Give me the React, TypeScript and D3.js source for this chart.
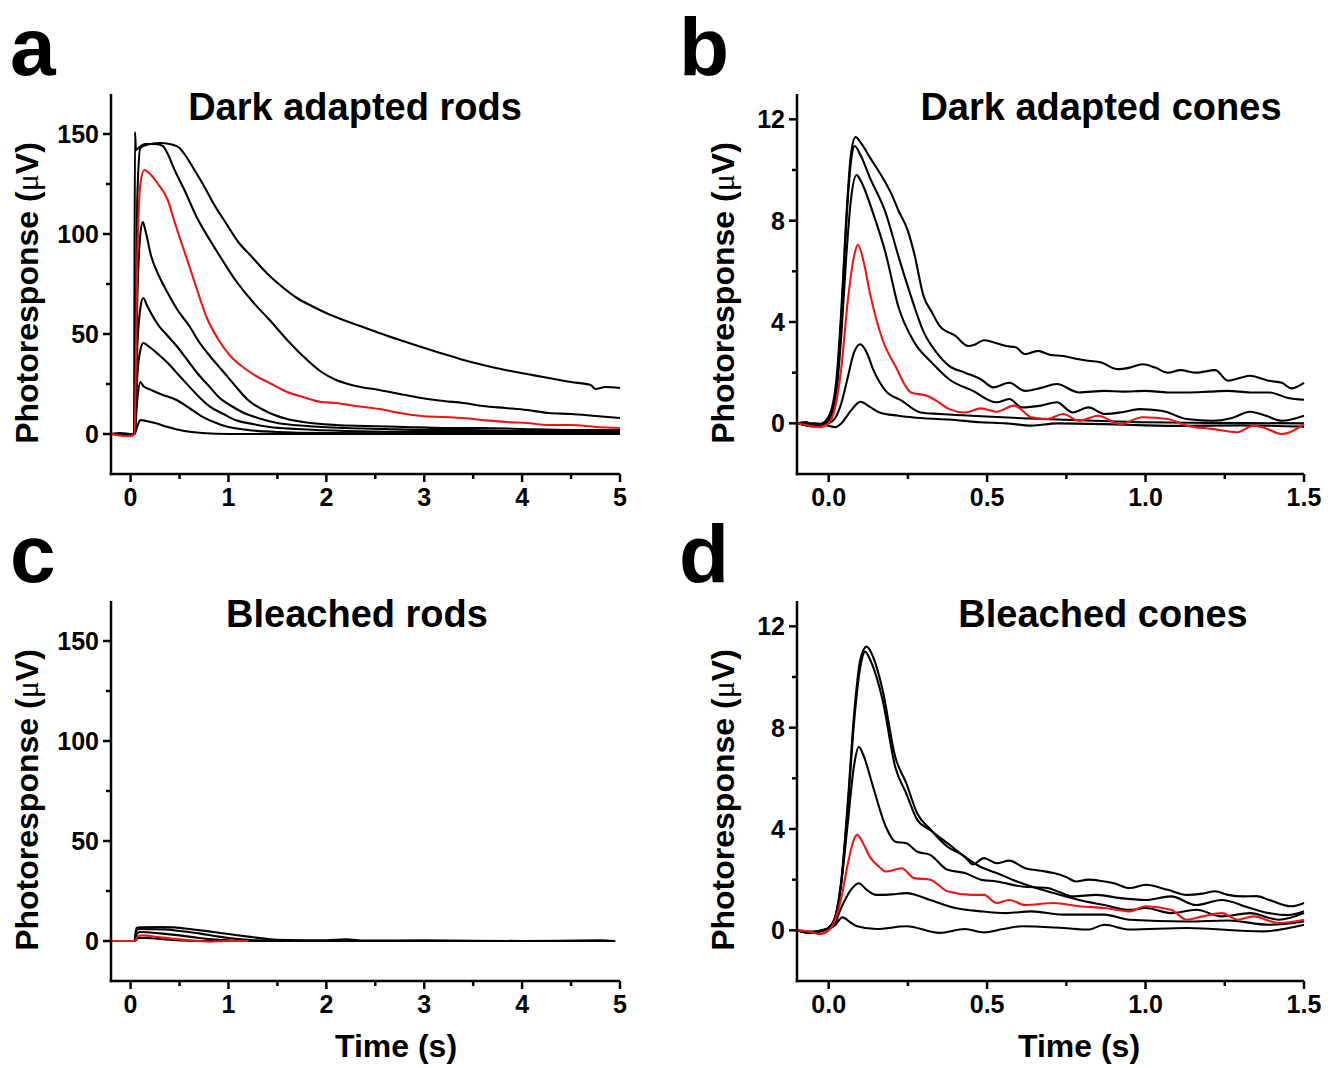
import React from 'react';
import * as d3 from 'd3';

type Pt = [number, number];

// ---------- Panel a: dark adapted rods (time s, response µV) ----------
const rodsDark1: Pt[] = [[-0.2,0],[-0.1,0.5],[0,0],[0.04,0],[0.07,120],[0.1,143],[0.2,145],[0.3,145.5],[0.4,145],[0.5,143],[0.55,140],[0.64,133],[0.75,124],[0.85,115],[0.98,105],[1.1,96],[1.24,88.5],[1.4,80],[1.55,73.5],[1.7,68],[1.85,64],[2.02,60],[2.2,56.5],[2.4,53],[2.54,50.5],[2.75,47],[2.97,43.5],[3.2,40],[3.4,37],[3.6,34.5],[3.83,32],[4.05,30],[4.27,28],[4.5,26],[4.7,24.5],[4.75,22.5],[4.85,23.5],[5.0,23]];
const rodsDark2: Pt[] = [[-0.2,0],[0,0],[0.035,0],[0.045,151],[0.055,142],[0.08,143],[0.15,145],[0.25,145],[0.33,144],[0.38,140],[0.45,132],[0.55,122],[0.68,108],[0.81,97],[0.95,86],[1.07,77],[1.25,66],[1.42,57],[1.6,47],[1.76,39],[1.95,31],[2.1,27],[2.3,24],[2.54,22],[2.75,20],[2.97,18],[3.2,16.5],[3.4,15.5],[3.6,14],[3.83,13],[4.05,12],[4.27,10.5],[4.5,10],[4.75,9],[5.0,8]];
const rodsDarkRed: Pt[] = [[-0.2,0],[-0.05,-1],[0,-1],[0.04,0],[0.07,90],[0.1,125],[0.14,132],[0.2,130],[0.28,125],[0.38,117],[0.45,106],[0.51,97],[0.6,84],[0.68,72],[0.78,58],[0.9,47],[1.02,39],[1.16,33],[1.3,28.5],[1.42,25.5],[1.6,21],[1.76,18.5],[1.95,16],[2.1,15.5],[2.3,14],[2.54,12.5],[2.75,10.5],[2.97,9],[3.2,8.5],[3.4,8],[3.6,7],[3.83,6],[4.05,5.5],[4.27,4.5],[4.5,4.5],[4.75,3.5],[5.0,3]];
const rodsDark4: Pt[] = [[-0.2,0],[0.04,0],[0.07,70],[0.1,100],[0.125,106],[0.15,102],[0.21,89],[0.3,78],[0.38,70.5],[0.48,62],[0.6,54],[0.7,46],[0.81,39],[0.95,31],[1.07,24],[1.2,17],[1.42,10.5],[1.6,7.5],[1.76,6],[2.1,4.5],[2.4,4],[2.8,3.5],[3.2,3],[3.6,3],[4.0,2.5],[4.5,2],[5.0,2]];
const rodsDark5: Pt[] = [[-0.2,0],[0.04,0],[0.07,45],[0.1,63],[0.13,68],[0.17,64],[0.29,54],[0.38,49],[0.47,44],[0.58,37],[0.68,30.5],[0.8,24],[0.9,18.5],[1.03,14],[1.16,10.5],[1.3,8],[1.5,5.5],[1.8,4],[2.2,3],[2.6,2.5],[3.0,2],[3.5,2],[4.0,1.5],[4.5,1.5],[5.0,1]];
const rodsDark6: Pt[] = [[-0.2,0],[0.04,0],[0.07,30],[0.1,42],[0.13,45.5],[0.18,44],[0.28,40],[0.38,35.5],[0.5,29],[0.6,23.7],[0.7,18.5],[0.81,13.7],[0.95,10],[1.07,7],[1.25,5],[1.42,3.5],[1.7,2.5],[2.2,1.5],[3,1],[4,1],[5,0.5]];
const rodsDark7: Pt[] = [[-0.2,0],[0.04,0],[0.07,18],[0.1,26],[0.13,24],[0.21,22],[0.33,19.5],[0.47,17],[0.6,13],[0.73,8.7],[0.85,6],[0.98,3.7],[1.2,2],[1.5,1],[2,0.5],[3,0.3],[5,0]];
const rodsDark8: Pt[] = [[-0.2,0],[0.04,0],[0.07,4],[0.1,7],[0.16,6.5],[0.25,5.5],[0.38,3.5],[0.55,1.5],[0.73,0.5],[1,0],[2,0],[3,0],[5,0]];

// ---------- Panel c: bleached rods ----------
const rodsBleach1: Pt[] = [[-0.2,0],[0.04,0],[0.06,6.5],[0.1,6.8],[0.3,7],[0.45,6.8],[0.6,6],[0.8,4.8],[1.0,3.5],[1.2,2.2],[1.4,1],[1.6,0.5],[2.0,0.3],[2.2,0.8],[2.4,0.2],[3,0.3],[4,0],[4.8,0.3],[4.95,0]];
const rodsBleach2: Pt[] = [[-0.2,0],[0.04,0],[0.06,5.5],[0.1,6],[0.35,5.8],[0.5,5],[0.7,3.8],[0.9,2.2],[1.1,1],[1.3,0.3],[1.6,0],[4.95,0]];
const rodsBleach3: Pt[] = [[-0.2,0],[0.04,0],[0.07,4],[0.1,4.5],[0.3,3.8],[0.5,2.8],[0.7,1.5],[0.9,0.6],[1.1,0],[4.95,0]];
const rodsBleach5: Pt[] = [[-0.2,0],[0.04,0],[0.08,1.5],[0.15,1.5],[0.4,0.6],[0.7,0],[4.95,0]];
const rodsBleachRed: Pt[] = [[-0.2,0],[0.04,0],[0.08,2.5],[0.12,2.8],[0.3,1.8],[0.5,0.8],[0.7,0],[0.8,-0.3],[1,0],[1.2,0]];

// ---------- Panel b: dark adapted cones ----------
const conesDark1: Pt[] = [[-0.1,0],[-0.07,0.05],[-0.05,-0.1],[-0.03,-0.05],[-0.01,0.1],[0.01,0.6],[0.025,1.8],[0.04,4.5],[0.055,8],[0.07,10.6],[0.085,11.3],[0.1,11.1],[0.13,10.5],[0.17,9.7],[0.2,9.0],[0.22,8.4],[0.25,7.6],[0.27,6.7],[0.3,5.0],[0.325,4.4],[0.35,3.85],[0.4,3.45],[0.44,3.05],[0.46,3.1],[0.49,3.28],[0.52,3.2],[0.56,3.05],[0.59,3.0],[0.62,2.73],[0.66,2.86],[0.7,2.7],[0.74,2.66],[0.78,2.55],[0.82,2.47],[0.86,2.4],[0.91,2.14],[0.95,2.2],[0.99,2.33],[1.03,2.2],[1.07,2.0],[1.11,2.1],[1.16,2.0],[1.22,2.1],[1.26,1.68],[1.3,1.8],[1.33,1.88],[1.37,1.75],[1.39,1.68],[1.43,1.6],[1.46,1.38],[1.5,1.6]];
const conesDark2: Pt[] = [[-0.1,0],[-0.05,-0.1],[-0.01,0.05],[0.01,0.5],[0.025,1.6],[0.04,4.2],[0.055,7.8],[0.07,10.3],[0.082,10.95],[0.1,10.6],[0.13,9.7],[0.18,8.3],[0.22,6.6],[0.26,5.0],[0.3,3.6],[0.34,2.8],[0.38,2.27],[0.43,2.0],[0.48,1.74],[0.52,1.42],[0.57,1.6],[0.62,1.28],[0.67,1.4],[0.72,1.55],[0.79,1.22],[0.87,1.28],[0.93,1.25],[1.0,1.28],[1.07,1.22],[1.13,1.22],[1.2,1.25],[1.26,1.28],[1.33,1.22],[1.39,1.22],[1.45,1.0],[1.5,0.93]];
const conesDark3: Pt[] = [[-0.1,0],[-0.05,-0.12],[-0.01,0],[0.01,0.4],[0.025,1.3],[0.04,3.5],[0.055,6.5],[0.07,8.8],[0.088,9.8],[0.1,9.6],[0.14,8.3],[0.18,6.7],[0.22,4.6],[0.27,3.2],[0.325,2.4],[0.38,1.74],[0.455,1.28],[0.53,0.83],[0.57,0.96],[0.61,0.63],[0.67,0.7],[0.72,0.83],[0.77,0.43],[0.82,0.63],[0.87,0.37],[0.93,0.45],[0.98,0.56],[1.05,0.5],[1.13,0.17],[1.21,0.1],[1.27,0.2],[1.33,0.46],[1.38,0.3],[1.43,0.1],[1.5,0.3]];
const conesDark5: Pt[] = [[-0.1,0],[-0.05,-0.1],[0,0],[0.02,0.2],[0.04,0.8],[0.06,1.8],[0.08,2.8],[0.1,3.12],[0.12,2.8],[0.14,2.14],[0.18,1.28],[0.23,0.9],[0.29,0.43],[0.35,0.37],[0.45,0.3],[0.61,0.2],[0.8,0.12],[1.0,0.04],[1.2,0.02],[1.5,0]];
const conesDark6: Pt[] = [[-0.1,0],[-0.04,0],[0,-0.1],[0.02,-0.15],[0.04,0],[0.07,0.5],[0.1,0.85],[0.13,0.65],[0.16,0.43],[0.22,0.3],[0.3,0.2],[0.38,0.15],[0.48,0.04],[0.56,0],[0.64,-0.09],[0.72,0],[0.87,-0.03],[1.0,-0.08],[1.13,-0.1],[1.3,-0.08],[1.5,-0.13]];
const conesDarkRed: Pt[] = [[-0.1,0],[-0.06,-0.1],[-0.03,-0.15],[0,0],[0.02,0.6],[0.04,2.2],[0.06,4.8],[0.08,6.6],[0.092,7.05],[0.11,6.4],[0.13,5.15],[0.17,3.3],[0.21,2.27],[0.26,1.22],[0.31,1.09],[0.345,0.85],[0.38,0.56],[0.43,0.43],[0.48,0.59],[0.53,0.46],[0.585,0.7],[0.64,0.24],[0.69,0.17],[0.74,0.37],[0.79,0.1],[0.85,0.3],[0.92,-0.03],[0.99,0.24],[1.07,0.17],[1.13,-0.09],[1.21,-0.22],[1.29,-0.35],[1.34,-0.09],[1.38,-0.2],[1.43,-0.42],[1.5,-0.03]];

// ---------- Panel d: bleached cones ----------
const conesBleach1: Pt[] = [[-0.1,0],[-0.06,-0.1],[-0.02,0],[0.0,0.1],[0.02,0.5],[0.04,2],[0.06,5],[0.08,8.5],[0.1,10.7],[0.12,11.2],[0.14,10.8],[0.17,9.5],[0.21,6.85],[0.245,5.8],[0.28,4.6],[0.32,4.0],[0.375,3.3],[0.43,2.9],[0.455,2.6],[0.49,2.85],[0.53,2.65],[0.57,2.75],[0.62,2.45],[0.67,2.35],[0.71,2.26],[0.75,2.1],[0.78,1.93],[0.82,2.0],[0.86,1.95],[0.9,1.86],[0.95,1.67],[1.0,1.8],[1.07,1.6],[1.13,1.4],[1.18,1.45],[1.22,1.54],[1.26,1.4],[1.31,1.34],[1.35,1.35],[1.39,1.2],[1.46,0.95],[1.5,1.08]];
const conesBleach2: Pt[] = [[-0.1,0],[-0.06,-0.1],[-0.02,0],[0.0,0.1],[0.02,0.45],[0.04,1.9],[0.06,4.8],[0.08,8.2],[0.1,10.4],[0.115,11.0],[0.13,10.7],[0.17,9.1],[0.21,6.45],[0.245,5.4],[0.28,4.35],[0.32,3.96],[0.375,3.44],[0.43,2.9],[0.48,2.5],[0.53,2.26],[0.58,2.0],[0.64,1.73],[0.71,1.47],[0.79,1.2],[0.87,1.0],[0.95,0.81],[1.0,0.88],[1.08,0.68],[1.16,0.81],[1.24,0.55],[1.33,0.68],[1.42,0.42],[1.5,0.68]];
const conesBleach3: Pt[] = [[-0.1,0],[-0.06,-0.1],[-0.02,0],[0.0,0.1],[0.02,0.5],[0.04,1.9],[0.06,4.2],[0.08,6.5],[0.095,7.24],[0.11,6.9],[0.14,5.67],[0.18,4.1],[0.21,3.5],[0.245,3.44],[0.28,3.1],[0.32,2.98],[0.375,2.39],[0.43,2.26],[0.48,2.0],[0.53,1.93],[0.61,1.73],[0.69,1.67],[0.73,1.5],[0.77,1.34],[0.845,1.4],[0.92,1.27],[1.0,1.2],[1.08,1.34],[1.16,1.0],[1.24,1.2],[1.33,0.88],[1.39,0.68],[1.45,0.6],[1.5,0.75]];
const conesBleach5: Pt[] = [[-0.1,0],[-0.05,-0.08],[0,0.05],[0.02,0.3],[0.04,0.9],[0.07,1.6],[0.095,1.86],[0.12,1.6],[0.15,1.4],[0.2,1.42],[0.245,1.47],[0.32,1.2],[0.4,0.88],[0.48,0.75],[0.56,0.68],[0.64,0.75],[0.74,0.62],[0.87,0.62],[0.95,0.42],[1.13,0.35],[1.26,0.39],[1.39,0.22],[1.5,0.35]];
const conesBleach6: Pt[] = [[-0.1,0],[-0.05,-0.05],[0,0.05],[0.02,0.2],[0.043,0.51],[0.07,0.3],[0.09,0.16],[0.15,0.05],[0.245,0.16],[0.35,-0.1],[0.43,0.05],[0.49,-0.08],[0.55,0.05],[0.61,0.16],[0.74,0.09],[0.82,0.03],[0.87,0.22],[0.95,0.03],[1.13,0.09],[1.37,-0.04],[1.5,0.22]];
const conesBleachRed: Pt[] = [[-0.1,0],[-0.06,-0.05],[-0.03,-0.15],[0.0,0],[0.02,0.4],[0.04,1.3],[0.06,2.6],[0.08,3.6],[0.09,3.77],[0.11,3.4],[0.13,2.9],[0.16,2.5],[0.18,2.32],[0.23,2.45],[0.27,2.06],[0.32,2.0],[0.375,1.54],[0.45,1.4],[0.49,1.4],[0.53,1.08],[0.57,1.2],[0.62,1.0],[0.71,1.08],[0.79,0.95],[0.87,0.88],[0.95,0.75],[1.0,0.95],[1.08,0.81],[1.13,0.42],[1.18,0.55],[1.24,0.68],[1.29,0.42],[1.34,0.55],[1.42,0.29],[1.5,0.42]];

// ---------- ticks ----------
const rodXTicks = [0, 1, 2, 3, 4, 5];
const rodXMinor = [0.5, 1.5, 2.5, 3.5, 4.5];
const rodYTicks = [0, 50, 100, 150];
const rodYMinor = [25, 75, 125];
const coneXTicks = [0, 0.5, 1.0, 1.5];
const coneXMinor = [0.25, 0.75, 1.25];
const coneYTicks = [0, 4, 8, 12];
const coneYMinor = [2, 6, 10];

const FONT = '"Liberation Sans", Arial, Helvetica, sans-serif';
const RED = '#f01414';
const INK = '#000';

type PanelProps = {
  left: number; top: number; width: number; height: number;
  xDomain: [number, number]; yDomain: [number, number];
  xTicks: number[]; xMinor: number[]; yTicks: number[]; yMinor: number[];
  xFmt: (v: number) => string;
  black: Pt[][]; red: Pt[];
  title: string; titleX: number;
  letter: string; letterX: number;
  ylabelX: number;
  xlabel?: boolean; xlabelX?: number;
};

function Panel(p: PanelProps) {
  const x = d3.scaleLinear().domain(p.xDomain).range([p.left, p.left + p.width]);
  const y = d3.scaleLinear().domain(p.yDomain).range([p.top + p.height, p.top]);
  const line = d3.line<Pt>().x(d => x(d[0])).y(d => y(d[1])).curve(d3.curveMonotoneX);
  const bottom = p.top + p.height;
  const majorLen = 8, minorLen = 5;
  return (
    <g>
      <text x={p.letterX} y={p.top - 19} fontFamily={FONT} fontWeight="bold" fontSize={82} fill={INK}>{p.letter}</text>
      <text x={p.titleX} y={p.top + 26} textAnchor="middle" fontFamily={FONT} fontWeight="bold" fontSize={38} fill={INK}>{p.title}</text>
      {p.black.map((tr, i) => (
        <path key={i} d={line(tr) || ''} fill="none" stroke={INK} strokeWidth={2.1} strokeLinejoin="round" />
      ))}
      <path d={line(p.red) || ''} fill="none" stroke={RED} strokeWidth={2.1} strokeLinejoin="round" />
      <line x1={p.left} x2={p.left} y1={p.top} y2={bottom + 1.25} stroke={INK} strokeWidth={2.5} />
      <line x1={p.left - 1.25} x2={p.left + p.width} y1={bottom} y2={bottom} stroke={INK} strokeWidth={2.5} />
      {p.xTicks.map(t => (
        <g key={'xt' + t}>
          <line x1={x(t)} x2={x(t)} y1={bottom} y2={bottom + majorLen} stroke={INK} strokeWidth={2.5} />
          <text x={x(t)} y={bottom + 32} textAnchor="middle" fontFamily={FONT} fontWeight="bold" fontSize={25} fill={INK}>{p.xFmt(t)}</text>
        </g>
      ))}
      {p.xMinor.map(t => (
        <line key={'xm' + t} x1={x(t)} x2={x(t)} y1={bottom} y2={bottom + minorLen} stroke={INK} strokeWidth={2.5} />
      ))}
      {p.yTicks.map(t => (
        <g key={'yt' + t}>
          <line x1={p.left - majorLen} x2={p.left} y1={y(t)} y2={y(t)} stroke={INK} strokeWidth={2.5} />
          <text x={p.left - 12} y={y(t) + 9} textAnchor="end" fontFamily={FONT} fontWeight="bold" fontSize={25} fill={INK}>{String(t)}</text>
        </g>
      ))}
      {p.yMinor.map(t => (
        <line key={'ym' + t} x1={p.left - minorLen} x2={p.left} y1={y(t)} y2={y(t)} stroke={INK} strokeWidth={2.5} />
      ))}
      <text transform={`translate(${p.ylabelX},${p.top + 199}) rotate(-90)`} textAnchor="middle" fontFamily={FONT} fontWeight="bold" fontSize={32} fill={INK}>
        Photoresponse (<tspan fontFamily='"Liberation Serif", serif' fontWeight="normal">μ</tspan>V)
      </text>
      {p.xlabel && (
        <text x={p.xlabelX} y={bottom + 76} textAnchor="middle" fontFamily={FONT} fontWeight="bold" fontSize={32} fill={INK}>Time (s)</text>
      )}
    </g>
  );
}

export default function App() {
  const rodFmt = (v: number) => String(v);
  const coneFmt = (v: number) => v.toFixed(1);
  return (
    <svg width={1339} height={1068} style={{ position: 'absolute', left: 0, top: 0, background: '#fff' }}>
      <rect x={0} y={0} width={1339} height={1068} fill="#fff" />
      <Panel left={111} top={94} width={509} height={380} xDomain={[-0.2, 5]} yDomain={[-20, 170]}
        xTicks={rodXTicks} xMinor={rodXMinor} yTicks={rodYTicks} yMinor={rodYMinor} xFmt={rodFmt}
        black={[rodsDark8, rodsDark7, rodsDark6, rodsDark5, rodsDark4, rodsDark2, rodsDark1]} red={rodsDarkRed}
        title="Dark adapted rods" titleX={355} letter="a" letterX={10} ylabelX={38} />
      <Panel left={797} top={94} width={507} height={380} xDomain={[-0.1, 1.5]} yDomain={[-2, 13]}
        xTicks={coneXTicks} xMinor={coneXMinor} yTicks={coneYTicks} yMinor={coneYMinor} xFmt={coneFmt}
        black={[conesDark6, conesDark5, conesDark3, conesDark2, conesDark1]} red={conesDarkRed}
        title="Dark adapted cones" titleX={1101} letter="b" letterX={679} ylabelX={734} />
      <Panel left={111} top={601} width={509} height={380} xDomain={[-0.2, 5]} yDomain={[-20, 170]}
        xTicks={rodXTicks} xMinor={rodXMinor} yTicks={rodYTicks} yMinor={rodYMinor} xFmt={rodFmt}
        black={[rodsBleach5, rodsBleach3, rodsBleach2, rodsBleach1]} red={rodsBleachRed}
        title="Bleached rods" titleX={357} letter="c" letterX={10} ylabelX={38} xlabel xlabelX={396} />
      <Panel left={797} top={601} width={507} height={380} xDomain={[-0.1, 1.5]} yDomain={[-2, 13]}
        xTicks={coneXTicks} xMinor={coneXMinor} yTicks={coneYTicks} yMinor={coneYMinor} xFmt={coneFmt}
        black={[conesBleach6, conesBleach5, conesBleach3, conesBleach2, conesBleach1]} red={conesBleachRed}
        title="Bleached cones" titleX={1103} letter="d" letterX={679} ylabelX={734} xlabel xlabelX={1079} />
    </svg>
  );
}
